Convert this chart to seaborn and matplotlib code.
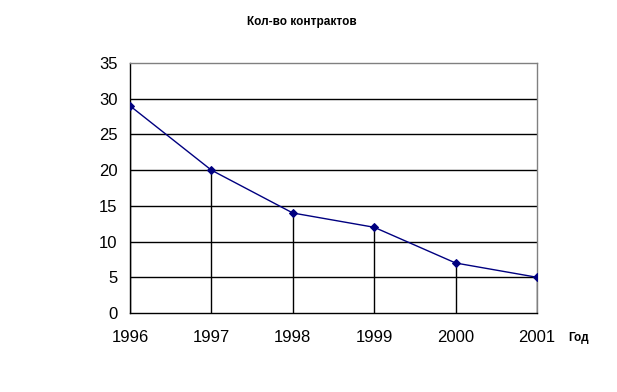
import numpy as np
import pandas as pd
import matplotlib
matplotlib.use("Agg")
import matplotlib.pyplot as plt
import seaborn as sns

years = [1996, 1997, 1998, 1999, 2000, 2001]
contracts = [29, 20, 14, 12, 7, 5]
y_ticks = [0, 5, 10, 15, 20, 25, 30, 35]

sns.set_style("white")
plt.rcParams["font.family"] = ["Liberation Sans", "DejaVu Sans"]
plt.rcParams["text.color"] = "black"
plt.rcParams["xtick.color"] = "black"
plt.rcParams["ytick.color"] = "black"

df = pd.DataFrame({"year": years, "contracts": contracts})

fig = plt.figure(figsize=(6.17, 3.92), dpi=100)
ax = fig.add_axes([130 / 617, 1 - 313 / 392, 407 / 617, 250 / 392])

for t in y_ticks[1:-1]:
    ax.axhline(t, color="black", linewidth=1, zorder=1)

ax.vlines(df["year"], 0, df["contracts"], color="black", linewidth=1, zorder=1)

sns.lineplot(data=df, x="year", y="contracts", ax=ax, color="#000080",
             marker="D", markersize=4, markeredgecolor="#000080",
             linewidth=1, zorder=3)

ax.set_xlim(years[0], years[-1])
ax.set_ylim(0, 35)
ax.set_xticks(years)
ax.set_yticks(y_ticks)
ax.tick_params(axis="both", direction="out", length=4, width=1,
               color="black", labelcolor="black", labelsize=12)
ax.tick_params(axis="x", pad=8)
ax.tick_params(axis="y", pad=5)
ax.set_xlabel("")
ax.set_ylabel("")

ax.spines["left"].set_color("black")
ax.spines["bottom"].set_color("black")
ax.spines["top"].set_color("#808080")
ax.spines["right"].set_color("#808080")
for s in ax.spines.values():
    s.set_linewidth(1)

fig.text(302 / 617, 1 - 22 / 392, "Кол-во контрактов", ha="center", va="center",
         fontsize=8.5, fontweight="bold", color="black")
fig.text(579 / 617, 1 - 338 / 392, "Год", ha="center", va="center",
         fontsize=8.5, fontweight="bold", color="black")

plt.savefig("out.png", dpi=100)
plt.close()
